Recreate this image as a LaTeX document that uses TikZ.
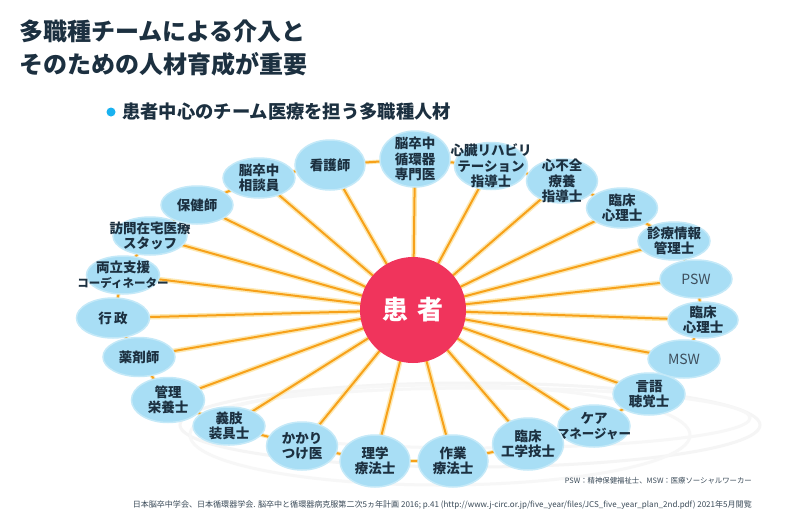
\documentclass[tikz,border=0pt]{standalone}
\usepackage{fontspec}
\setmainfont{Noto Sans CJK JP}
\usetikzlibrary{shapes.geometric}
\definecolor{navy}{HTML}{1C3040}
\definecolor{ellfill}{HTML}{A8DEF5}
\definecolor{ellrim}{HTML}{C4E9F8}
\definecolor{spokeC}{HTML}{F7A11A}
\definecolor{haloC}{HTML}{FDE9B4}
\definecolor{redC}{HTML}{F0345C}
\definecolor{bulletC}{HTML}{19B2F0}
\definecolor{noteC}{HTML}{3A4A58}
\pgfdeclarelayer{bg}
\pgfdeclarelayer{swoosh}
\pgfsetlayers{swoosh,bg,main}
\tikzset{
 ell/.style={ellipse, fill=ellfill, draw=ellrim, line width=1.5pt, inner sep=0pt},
 lbl/.style={font=\bfseries\fontsize{13.5}{15.5}\selectfont, text=navy, align=center, inner sep=0pt},
 latlbl/.style={font=\fontsize{14}{16}\selectfont, text=navy!85, inner sep=0pt},
 halo/.style={haloC, line width=5pt},
 spoke/.style={spokeC, line width=2pt},
 swooshline/.style={black!4, line width=3pt},
}
\newcommand\pn[6]{%
 \node[ell, minimum width=#4pt, minimum height=#5pt] (#1) at (#2,#3) {};%
 \node[lbl] (#1t) at (#1) {#6};}
\begin{document}
\begin{tikzpicture}[x=1pt,y=-1pt]
\useasboundingbox (0,0) rectangle (789,530);
\begin{pgfonlayer}{swoosh}
\fill[white] (0,0) rectangle (789,530);
\draw[swooshline] (470,425) ellipse [x radius=290, y radius=-42];
\draw[swooshline, black!3] (480,418) ellipse [x radius=270, y radius=-30];
\draw[swooshline, black!3] (440,435) ellipse [x radius=250, y radius=-50];
\end{pgfonlayer}
% title
\node[anchor=west, font=\bfseries\fontsize{24}{28}\selectfont, text=navy, inner sep=0pt] (t1) at (19,31) {多職種チームによる介入と};
\node[anchor=west, font=\bfseries\fontsize{24}{28}\selectfont, text=navy, inner sep=0pt] (t2) at (19,64) {そのための人材育成が重要};
\fill[bulletC] (111,112) circle (4.5);
\node[anchor=west, font=\bfseries\fontsize{18.3}{22}\selectfont, text=navy, inner sep=0pt] (sub) at (122,112) {患者中心のチーム医療を担う多職種人材};
% centre
\node[circle, fill=redC, minimum size=106pt, inner sep=0pt] (c) at (413,310) {};
\node[font=\bfseries\fontsize{26}{30}\selectfont, text=white, inner sep=0pt] (ct) at (c) {患\,\,者};
% people
\pn{n1}{415}{159}{70}{56}{脳卒中\\循環器\\専門医}
\pn{n2}{491}{166}{73}{47}{心臓リハビリ\\テーション\\指導士}
\pn{n3}{562}{181}{71}{44}{心不全\\療養\\指導士}
\pn{n4}{622}{208}{71}{40}{臨床\\心理士}
\pn{n5}{674}{241}{72}{38}{診療情報\\管理士}
\node[ell, minimum width=72pt, minimum height=38pt] (n6) at (696,279) {};
\node[latlbl] (n6t) at (n6) {PSW};
\pn{n7}{703}{320}{70}{36}{臨床\\心理士}
\node[ell, minimum width=72pt, minimum height=38pt] (n8) at (684,359) {};
\node[latlbl] (n8t) at (n8) {MSW};
\pn{n9}{649}{394}{72}{42}{言語\\聴覚士}
\pn{n10}{594}{426}{72}{42}{ケア\\{\fontsize{12.5}{15}\selectfont マネージャー}}
\pn{n11}{528}{444}{71}{52}{臨床\\工学技士}
\pn{n12}{453}{461}{70}{52}{作業\\療法士}
\pn{n13}{375}{461}{70}{52}{理学\\療法士}
\pn{n14}{302}{446}{71}{48}{かかり\\つけ医}
\pn{n15}{229}{426}{72}{38}{義肢\\装具士}
\pn{n16}{168}{400}{73}{45}{管理\\栄養士}
\pn{n17}{139}{357}{72}{39}{薬剤師}
\pn{n18}{113}{318}{73}{40}{行\,政}
\pn{n19}{123}{275}{73}{38}{両立支援\\{\fontsize{11.5}{14}\selectfont コーディネーター}}
\pn{n20}{150}{236}{74}{38}{訪問在宅医療\\スタッフ}
\pn{n21}{197}{205}{72}{38}{保健師}
\pn{n22}{259}{178}{72}{40}{脳卒中\\相談員}
\pn{n23}{330}{165}{70}{50}{看護師}
\begin{pgfonlayer}{bg}
\foreach \i in {1,...,23}{
 \draw[halo] (c.center) -- (n\i.center);
}
\foreach \a/\b in {n1/n2,n2/n3,n3/n4,n4/n5,n5/n6,n6/n7,n7/n8,n8/n9,n9/n10,n10/n11,n11/n12,n12/n13,n13/n14,n14/n15,n15/n16,n16/n17,n17/n18,n18/n19,n19/n20,n20/n21,n21/n22,n22/n23,n23/n1}{
 \draw[haloC, line width=4pt] (\a.center) -- (\b.center);
}
\foreach \i in {1,...,23}{
 \draw[spoke] (c.center) -- (n\i.center);
}
\foreach \a/\b in {n1/n2,n2/n3,n3/n4,n4/n5,n5/n6,n6/n7,n7/n8,n8/n9,n9/n10,n10/n11,n11/n12,n12/n13,n13/n14,n14/n15,n15/n16,n16/n17,n17/n18,n18/n19,n19/n20,n20/n21,n21/n22,n22/n23,n23/n1}{
 \draw[spoke] (\a.center) -- (\b.center);
}
\end{pgfonlayer}
% notes
\node[anchor=east, text=noteC, inner sep=0pt] (note1) at (752,481) {\resizebox{187pt}{!}{PSW：精神保健福祉士、MSW：医療ソーシャルワーカー}};
\node[anchor=east, text=noteC, inner sep=0pt] (note2) at (752,505) {\resizebox{619pt}{!}{日本脳卒中学会、日本循環器学会. 脳卒中と循環器病克服第二次5ヵ年計画 2016; p.41 (http://www.j-circ.or.jp/five\_year/files/JCS\_five\_year\_plan\_2nd.pdf) 2021年5月閲覧}};
\end{tikzpicture}
\end{document}
